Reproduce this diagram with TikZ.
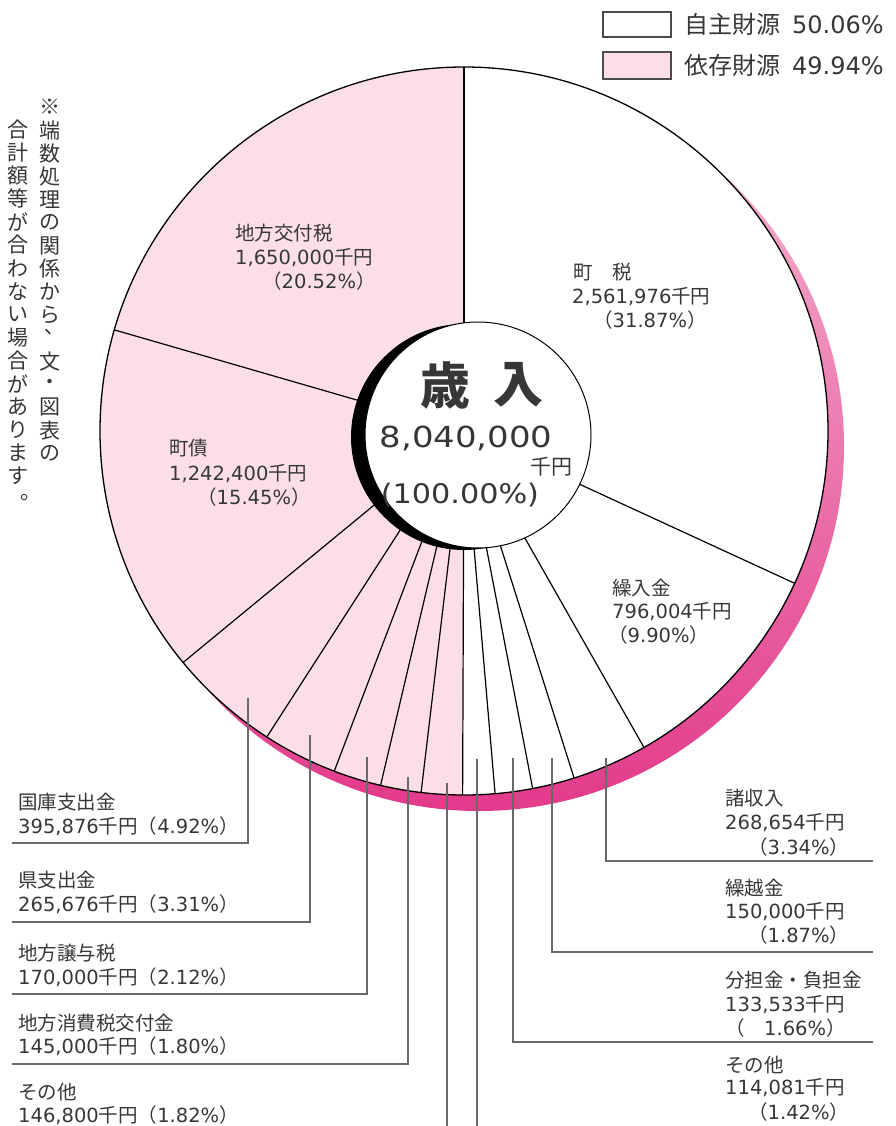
\documentclass[tikz,border=0pt]{standalone}
\usepackage{fontspec}
\usepackage{graphicx}
\setmainfont{Noto Sans CJK JP}
\newfontfamily\numfont{DejaVu Sans}
\newcommand\nm[1]{{\numfont #1}}
\definecolor{pinkfill}{RGB}{252,222,232}
\definecolor{txt}{RGB}{55,55,55}
\definecolor{leader}{RGB}{105,105,105}
\definecolor{shadeA}{RGB}{246,185,212}
\definecolor{shadeB}{RGB}{226,58,138}
\begin{document}
\begin{tikzpicture}[x=1pt,y=-1pt,
  lbl/.style={anchor=west, inner sep=0pt, text=txt, font=\fontsize{19.5}{22}\selectfont},
  vt/.style={inner sep=0pt, text=txt, font=\fontsize{21}{22}\selectfont},
  leg/.style={anchor=west, inner sep=0pt, text=txt, font=\fontsize{24}{25}\selectfont},
  legbox/.style={draw=black!70, line width=1.3pt},
  ldr/.style={draw=leader, line width=1.1pt},
  pieline/.style={draw=black, line width=1.2pt}]
\useasboundingbox (0,0) rectangle (895,1126);
\fill[white] (0,0) rectangle (895,1126);
\coordinate (C) at (464,431);
% shadow of the pie
\shade[top color=shadeA, bottom color=shadeB] (479,446) circle[radius=365];
% pie
\fill[white] (C) circle[radius=364];
\fill[pinkfill] (C) -- ++(90.22:364) arc[start angle=90.22, end angle=270, radius=364] -- cycle;
\foreach \a in {-90,24.73,60.37,72.40,79.13,85.10,90.22,96.77,103.25,110.88,122.80,140.51,196.13}
  \draw[pieline] (C) -- ++(\a:364);
\draw[line width=1.3pt] (C) circle[radius=364];
% centre disc
\fill[black] (464,437) circle[radius=113];
\filldraw[fill=white, draw=black, line width=1pt] (478,435) circle[radius=113];
\node[inner sep=0pt, text=txt, font=\fontsize{50}{50}\selectfont\bfseries] (sai) at (445,385) {歳};
\node[inner sep=0pt, text=txt, font=\fontsize{50}{50}\selectfont\bfseries] (nyu) at (518,385) {入};
\node[inner sep=0pt, text=txt] (total) at (466,438) {\scalebox{1.17}[1]{\fontsize{29}{30}\numfont 8,040,000}};
\node[inner sep=0pt, text=txt, font=\fontsize{21}{22}\selectfont] (yen) at (551,467) {千円};
\node[inner sep=0pt, text=txt] (pct) at (460,495) {\scalebox{1.12}[1]{\fontsize{27}{28}\numfont (100.00\%)}};
% pie labels
\node[lbl] (kofu1) at (235,233) {地方交付税};
\node[lbl] (kofu2) at (235,258) {\nm{1,650,000}千円};
\node[lbl] (kofu3) at (262,281) {（\nm{20.52\%}）};
\node[lbl] (chozei1) at (573,272) {町　税};
\node[lbl] (chozei2) at (572,297) {\nm{2,561,976}千円};
\node[lbl] (chozei3) at (593,320) {（\nm{31.87\%}）};
\node[lbl] (chosai1) at (169,448) {町債};
\node[lbl] (chosai2) at (169,474) {\nm{1,242,400}千円};
\node[lbl] (chosai3) at (197,497) {（\nm{15.45\%}）};
\node[lbl] (kuri1) at (612,588) {繰入金};
\node[lbl] (kuri2) at (612,612) {\nm{796,004}千円};
\node[lbl] (kuri3) at (608,635) {（\nm{9.90\%}）};
% left labels
\node[lbl] (kokko1) at (18,802) {国庫支出金};
\node[lbl] (kokko2) at (18,826) {\nm{395,876}千円（\nm{4.92\%}）};
\node[lbl] (ken1) at (18,880) {県支出金};
\node[lbl] (ken2) at (18,904) {\nm{265,676}千円（\nm{3.31\%}）};
\node[lbl] (joyo1) at (18,953) {地方譲与税};
\node[lbl] (joyo2) at (18,977) {\nm{170,000}千円（\nm{2.12\%}）};
\node[lbl] (shohi1) at (18,1023) {地方消費税交付金};
\node[lbl] (shohi2) at (18,1046) {\nm{145,000}千円（\nm{1.80\%}）};
\node[lbl] (sonotaL1) at (18,1092) {その他};
\node[lbl] (sonotaL2) at (18,1115) {\nm{146,800}千円（\nm{1.82\%}）};
% right labels
\node[lbl] (sho1) at (725,798) {諸収入};
\node[lbl] (sho2) at (725,823) {\nm{268,654}千円};
\node[lbl] (sho3) at (748,847) {（\nm{3.34\%}）};
\node[lbl] (koshi1) at (725,888) {繰越金};
\node[lbl] (koshi2) at (725,912) {\nm{150,000}千円};
\node[lbl] (koshi3) at (748,935) {（\nm{1.87\%}）};
\node[lbl] (buntan1) at (725,980) {分担金・負担金};
\node[lbl] (buntan2) at (725,1005) {\nm{133,533}千円};
\node[lbl] (buntan3) at (725,1028) {（　\nm{1.66\%}）};
\node[lbl] (sonotaR1) at (725,1065) {その他};
\node[lbl] (sonotaR2) at (725,1088) {\nm{114,081}千円};
\node[lbl] (sonotaR3) at (748,1112) {（\nm{1.42\%}）};
% leader lines
\draw[ldr] (248,698) |- (12,843);
\draw[ldr] (310,735) |- (12,922);
\draw[ldr] (367,757) |- (12,994);
\draw[ldr] (408,777) |- (12,1064);
\draw[ldr] (447,783) -- (447,1126);
\draw[ldr] (477,759) -- (477,1126);
\draw[ldr] (513,758) |- (873,1042);
\draw[ldr] (552,758) |- (873,952);
\draw[ldr] (606,758) |- (873,861);
% legend
\draw[legbox, fill=white] (603,12) rectangle (671,37);
\draw[legbox, fill=pinkfill] (603,52) rectangle (671,79);
\node[leg] (leg1) at (684,24) {自主財源\hspace{0.5em}\nm{50.06\%}};
\node[leg] (leg2) at (684,65) {依存財源\hspace{0.5em}\nm{49.94\%}};
% vertical note
\foreach \c [count=\i from 0] in {※,端,数,処,理,の,関,係,か,ら}
  \node[vt] (r\i) at (50,{107+23.1*\i}) {\c};
\node[vt] (r10) at (42,338) {︑};
\foreach \c [count=\i from 11] in {文,・,図,表,の}
  \node[vt] (r\i) at (50,{107+23.1*\i}) {\c};
\foreach \c [count=\i from 0] in {合,計,額,等,が,合,わ,な,い,場,合,が,あ,り,ま,す}
  \node[vt] (l\i) at (18,{129.5+23.1*\i}) {\c};
\node[vt] (l16) at (31,497.5) {。};
\end{tikzpicture}
\end{document}
